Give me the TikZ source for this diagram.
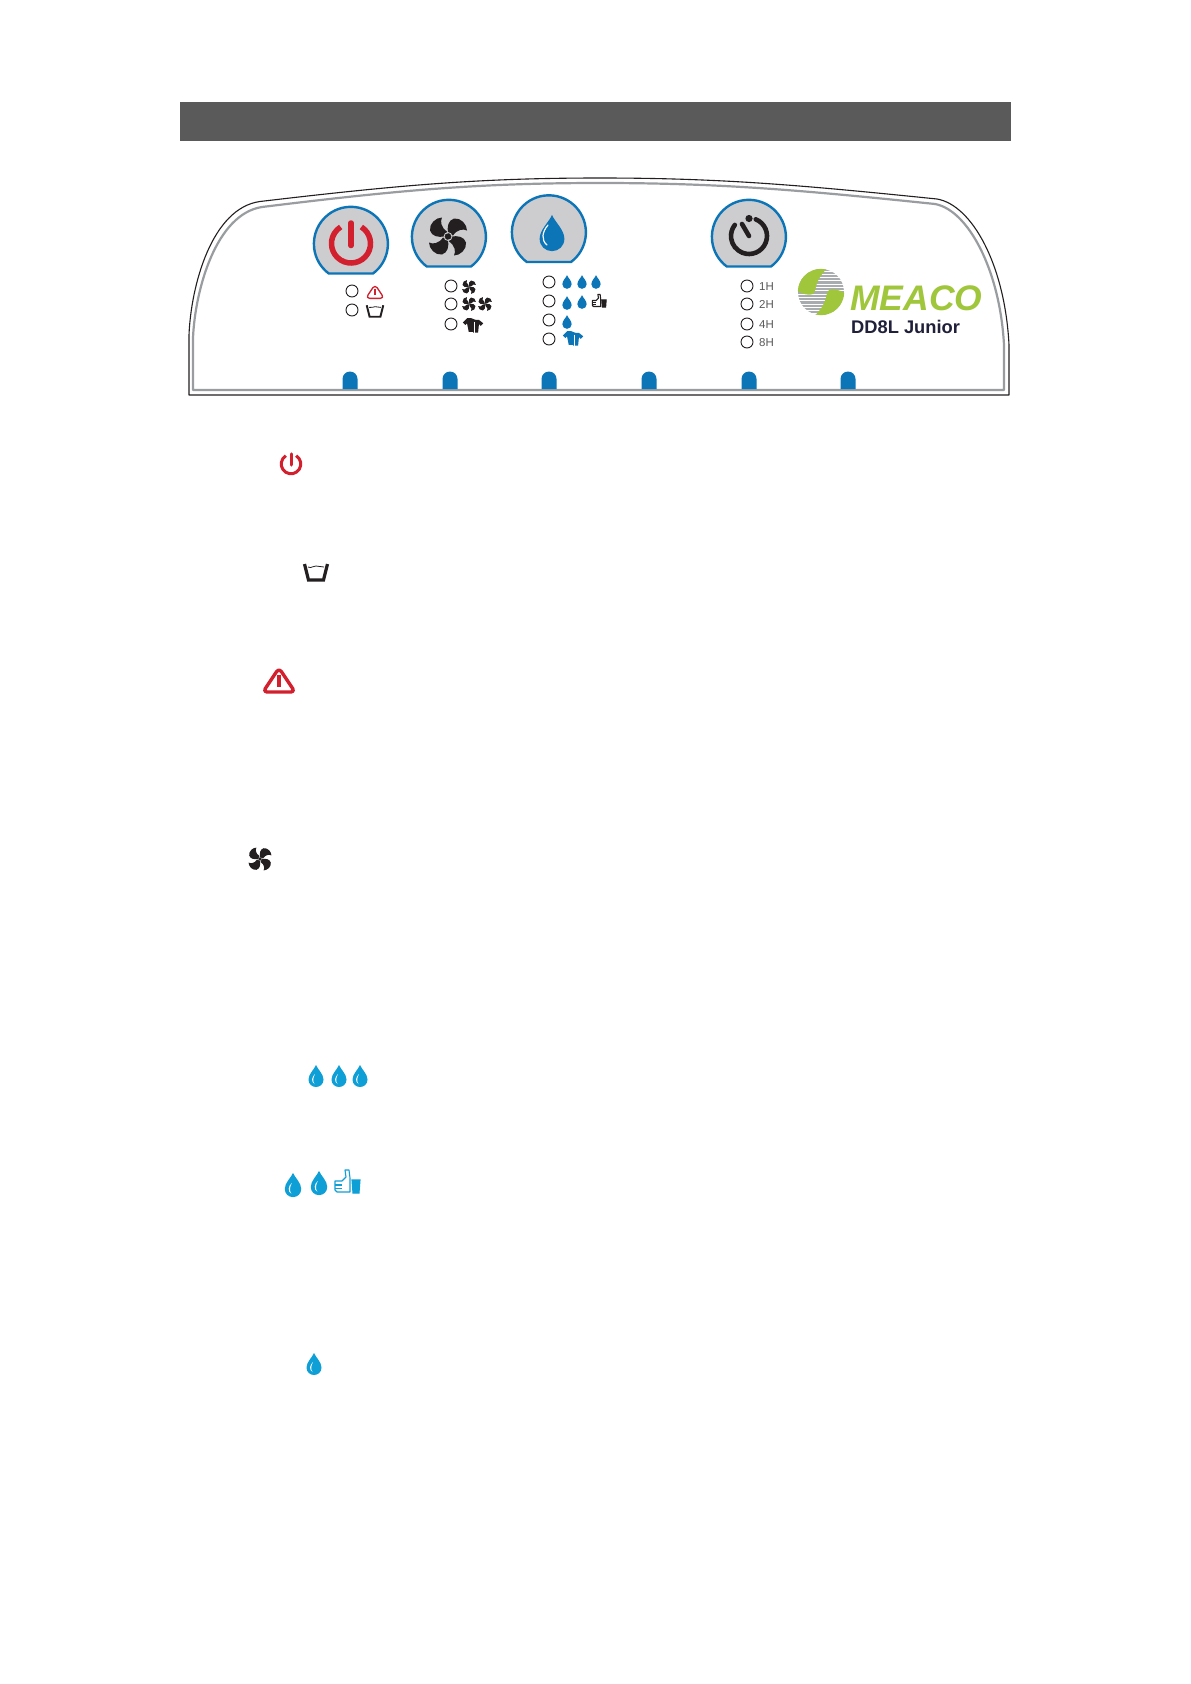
\documentclass[tikz,border=0pt]{standalone}
\usepackage{fontspec}
\setmainfont{Liberation Sans}
\definecolor{headc}{HTML}{5A5A5A}
\definecolor{btnc}{HTML}{CDCDCF}
\definecolor{blued}{HTML}{0B75B7}
\definecolor{dropc}{HTML}{0E9FD6}
\definecolor{redc}{HTML}{D3202E}
\definecolor{blk}{HTML}{231F20}
\definecolor{grayl}{HTML}{9A9DA0}
\definecolor{greenc}{HTML}{A0C63C}
\definecolor{navy}{HTML}{20203A}
\tikzset{
  btnshape/.style={draw=blued,fill=btnc,line width=2.4pt},
  led/.style={circle,draw=blk,fill=white,line width=.9pt,minimum size=12pt,inner sep=0pt},
  tabshape/.style={fill=blued},
  hourtxt/.style={font=\fontsize{11.5}{12}\selectfont,text=black!65,inner sep=0pt,anchor=west},
  pbtn/.pic={\draw[btnshape] (22,29.5) arc[start angle=-53.3,end angle=233.3,radius=37pt] -- cycle;},
  ptab/.pic={\fill[tabshape] (-7.5,0) -- (-7.5,-10) arc[start angle=180,end angle=0,radius=7.5pt] -- (7.5,0) -- cycle;},
  pdrop/.pic={
    \fill[pic actions] (0,-11) .. controls (1.5,-7) and (7.5,-2) .. (7.5,3.5) .. controls (7.5,8) and (4,11) .. (0,11) .. controls (-4,11) and (-7.5,8) .. (-7.5,3.5) .. controls (-7.5,-2) and (-1.5,-7) .. (0,-11) -- cycle;
    \fill[white] (-1,-2) .. controls (-4.5,1) and (-5,6) .. (-1.5,8) .. controls (-3.5,5) and (-3,2) .. (-1,-2) -- cycle;
  },
  pdropb/.pic={
    \fill[pic actions] (0,-11) .. controls (1.5,-7) and (7.5,-2) .. (7.5,3.5) .. controls (7.5,8) and (4,11) .. (0,11) .. controls (-4,11) and (-7.5,8) .. (-7.5,3.5) .. controls (-7.5,-2) and (-1.5,-7) .. (0,-11) -- cycle;
  },
  pfan/.pic={
    \foreach \a in {0,90,180,270}{
      \fill[pic actions,rotate=\a] (0,-3) .. controls (-1,-10) and (0,-16) .. (6,-18) .. controls (13,-19) and (19,-12) .. (19,-6) .. controls (15,-8) and (9,-7) .. (5,-1) -- cycle;
    }
    \fill[pic actions] (0,0) circle[radius=3.2pt];
  },
  ppower/.pic={
    \draw[pic actions,line cap=butt] (0,0)++(58:19.5pt) arc[start angle=58,end angle=-238,radius=19.5pt];
    \draw[pic actions,line cap=round] (0,-20.5) -- (0,2);
  },
  ptimer/.pic={
    \draw[pic actions,line cap=round] (0,0)++(68:18pt) arc[start angle=68,end angle=-218,radius=18pt];
    \draw[pic actions,line cap=round] (0,0) -- (-7,-12);
    \fill[blk] (0,-17.5) circle[radius=3.6pt];
  },
  pwarn/.pic={
    \draw[pic actions,line join=round,rounded corners=4pt] (0,-13) -- (16,11) -- (-16,11) -- cycle;
    \draw[pic actions,line cap=butt] (0,-6) -- (0,6);
  },
  pbasin/.pic={
    \draw[pic actions,line join=miter] (-11.5,-8) -- (-7.5,8) -- (7.5,8) -- (11.5,-8);
    \draw[pic actions,line width=.8pt] (-8,-5) .. controls (-4,-3) and (-3,-7) .. (0,-6) .. controls (3,-5) and (5,-6) .. (8,-5);
  },
  pshirt/.pic={
    \fill[pic actions] (-2,-8) -- (-7,-8) -- (-12,-3) -- (-9,0) -- (-7,-2) -- (-5,8) -- (1,8) -- (1,-2) -- (3,-6) -- cycle;
    \fill[pic actions] (2,-6) -- (7,-6) -- (12,-2) -- (9,1) -- (7,-1) -- (6,9) -- (0,9) -- (0,-1) -- cycle;
    \draw[white,line width=.5pt] (1,-4) -- (1,9);
  },
  pthumb/.pic={
    \draw[pic actions,fill=white,line join=round] (-12,-1) -- (-5,-1) -- (-1,-5) -- (-2,-12) -- (2,-12) -- (3,-4) -- (3,-1) -- (3,10) -- (-10,10) -- (-12,8) -- cycle;
    \draw[pic actions,fill=none] (-12,3) -- (-5,3) (-12,6.5) -- (-5,6.5);
    \fill[pic actions] (5,-2) -- (13,-2) -- (12,11) -- (6,11) -- cycle;
  },
}
\begin{document}
\begin{tikzpicture}[x=1pt,y=-1pt]
\useasboundingbox (0,0) rectangle (1191,1684);
\fill[white] (0,0) rectangle (1191,1684);
% header
\fill[headc] (180,102) rectangle (1011,141);
% panel
\draw[grayl,line width=2.2pt,line join=round] (193,390) -- (193,338) .. controls (195,290) and (216,214) .. (262,207) .. controls (400,190) and (480,183) .. (600,183) .. controls (720,183) and (800,190) .. (935,204) .. controls (968,210) and (1000,270) .. (1004,345) -- (1004,390) -- cycle;
\draw[blk,line width=1.1pt,line join=round] (189,395) -- (189,335) .. controls (191,285) and (212,208) .. (260,201.5) .. controls (400,185) and (480,178) .. (600,178) .. controls (720,178) and (800,185) .. (937,199) .. controls (972,205) and (1005,265) .. (1009,345) -- (1009,395) -- cycle;
% tabs
\foreach \x in {350,450,549,649,749,848}{ \path (\x,389) pic {ptab}; }
% buttons
\path (351,244) pic {pbtn};
\path (449,237) pic {pbtn};
\path (549,232.5) pic {pbtn};
\path (749,237) pic {pbtn};
\path (351,243.5) pic[draw=redc,line width=5.5pt] {ppower};
\path (448,236.5) pic[fill=blk] {pfan};
\draw[btnc,line width=.8pt] (448,236.5) circle[radius=4pt];
\path (552,233) pic[fill=blued,scale=1.65] {pdropb};
\draw[white,line width=1.2pt,line cap=round] (548,225) .. controls (542,232) and (541,240) .. (547,245);
\path (749,236) pic[draw=blk,line width=4.6pt] {ptimer};
% LEDs
\node[led] (l1) at (352,291) {};
\node[led] (l2) at (352,310) {};
\node[led] (l3) at (451,286) {};
\node[led] (l4) at (451,304) {};
\node[led] (l5) at (451,324) {};
\node[led] (l6) at (549,282) {};
\node[led] (l7) at (549,301) {};
\node[led] (l8) at (549,320) {};
\node[led] (l9) at (549,339) {};
\node[led] (l10) at (747,286) {};
\node[led] (l11) at (747,304) {};
\node[led] (l12) at (747,324) {};
\node[led] (l13) at (747,342) {};
% small icons
\path (375,292) pic[draw=redc,line width=1.3pt,scale=.58] {pwarn};
\path (375,311) pic[draw=blk,line width=1.9pt,scale=.72] {pbasin};
\path (469,287) pic[fill=blk,scale=.36] {pfan};
\path (469,304) pic[fill=blk,scale=.36] {pfan};
\path (485,304) pic[fill=blk,scale=.36] {pfan};
\path (473,325) pic[fill=blk,scale=.85] {pshirt};
\path (567,282) pic[fill=blued,scale=.62] {pdropb};
\path (582,282) pic[fill=blued,scale=.62] {pdropb};
\path (596,282) pic[fill=blued,scale=.62] {pdropb};
\path (567,303) pic[fill=blued,scale=.62] {pdropb};
\path (582,302) pic[fill=blued,scale=.62] {pdropb};
\path (599,301) pic[draw=blk,fill=blk,line width=1.1pt,scale=.55] {pthumb};
\path (567,322) pic[fill=blued,scale=.62] {pdropb};
\path (573,338) pic[fill=blued,scale=.85] {pshirt};
% hours
\node[hourtxt] (h1) at (759,286.5) {1H};
\node[hourtxt] (h2) at (759,304.5) {2H};
\node[hourtxt] (h4) at (759,324.5) {4H};
\node[hourtxt] (h8) at (759,342.5) {8H};
% logo
\begin{scope}[shift={(821,292)}]
  \fill[grayl!85] (0,0) circle[radius=23pt];
  \foreach \yy in {-21,-17.7,...,22}{ \draw[white,line width=.9pt] (-24,\yy) -- (24,\yy); }
  \fill[greenc] (5,-22.5) arc[start angle=77,end angle=178,radius=23pt] .. controls (-18,2.5) and (-12,3.5) .. (-8,2) .. controls (-4,0) and (-8,-9) .. (5,-22.5) -- cycle;
  \fill[greenc] (-5,22.5) arc[start angle=-103,end angle=-2,radius=23pt] .. controls (18,-2.5) and (12,-3.5) .. (8,-2) .. controls (4,0) and (8,9) .. (-5,22.5) -- cycle;
\end{scope}
\node[anchor=base west,inner sep=0pt,text=greenc,font=\fontsize{35.5}{36}\selectfont\bfseries\itshape] (meaco) at (850,310) {MEACO};
\node[anchor=base west,inner sep=0pt,text=navy,font=\fontsize{18.3}{19}\selectfont\bfseries] (model) at (851,333) {DD8L Junior};
% legend icons below
\path (291,464) pic[draw=redc,line width=3pt,scale=.5] {ppower};
\path (316,572) pic[draw=blk,line width=3.2pt] {pbasin};
\path (279,681) pic[draw=redc,fill=white,line width=3.4pt] {pwarn};
\path (260,859) pic[fill=blk,scale=.6] {pfan};
\path (316,1076) pic[fill=dropc] {pdrop};
\path (339,1076) pic[fill=dropc] {pdrop};
\path (360,1076) pic[fill=dropc] {pdrop};
\path (293,1185) pic[fill=dropc,scale=1.1] {pdrop};
\path (319,1183) pic[fill=dropc,scale=1.1] {pdrop};
\path (347,1182) pic[draw=dropc,fill=dropc,line width=1.1pt] {pthumb};
\path (314,1364) pic[fill=dropc] {pdrop};
\end{tikzpicture}
\end{document}
